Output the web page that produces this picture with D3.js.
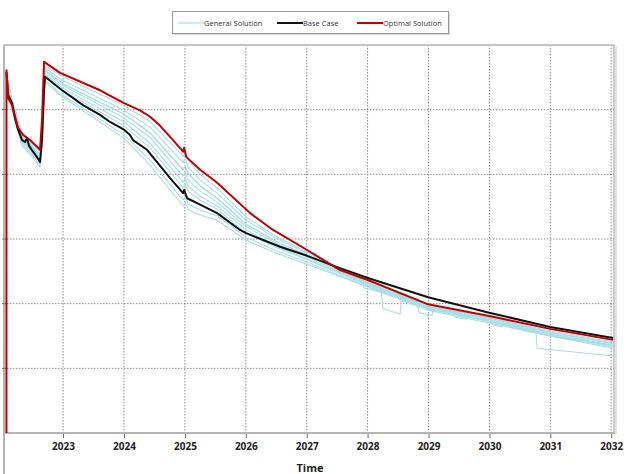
<!DOCTYPE html>
<html>
<head>
<meta charset="utf-8">
<script src="https://cdn.jsdelivr.net/npm/d3@7"></script>
<style>
  html, body { margin: 0; padding: 0; background: #fff; }
  svg { display: block; }
</style>
</head>
<body>
<div id="chart"></div>
<script>
// Time given as decimal years, values in chart units (no y labels shown)
const xTickYears = [2023, 2024, 2025, 2026, 2027, 2028, 2029, 2030, 2031, 2032];
const yGridValues = [10, 20, 30, 40, 50];

const baseTimes = [2022.070, 2022.097, 2022.163, 2022.212, 2022.261, 2022.327, 2022.376, 2022.409, 2022.442, 2022.507,
    2022.606, 2022.622, 2022.655, 2022.688, 2022.704, 2022.984, 2023.328, 2023.608, 2023.772, 2024.002,
    2024.100, 2024.149, 2024.379, 2024.593, 2024.757, 2024.970, 2024.987, 2025.036, 2025.250, 2025.529,
    2025.906, 2026.005, 2026.563, 2027.007, 2027.548, 2027.992, 2028.993, 2029.995, 2030.997, 2032.031];
const baseValues = [55.8, 52.3, 51.0, 48.6, 46.9, 45.3, 45.0, 45.6, 44.4, 43.5,
    42.2, 41.9, 45.3, 53.0, 55.1, 53.0, 50.7, 49.2, 48.1, 46.9,
    46.1, 45.3, 43.8, 41.3, 39.4, 37.1, 37.6, 36.3, 35.3, 34.0,
    31.4, 30.9, 28.8, 27.4, 25.5, 24.0, 21.0, 18.6, 16.4, 14.7];

const optTimes = [2022.070, 2022.071, 2022.097, 2022.163, 2022.212, 2022.261, 2022.343, 2022.458, 2022.589, 2022.622,
    2022.655, 2022.688, 2022.951, 2023.608, 2024.002, 2024.264, 2024.429, 2024.593, 2024.757, 2024.970,
    2024.987, 2025.020, 2025.250, 2025.529, 2026.071, 2026.448, 2027.007, 2027.548, 2027.992, 2028.993,
    2029.995, 2030.997, 2032.031];
const optValues = [0, 56.1, 51.8, 50.7, 48.9, 47.2, 46.1, 45.3, 44.1, 43.8,
    48.4, 57.4, 55.7, 53.0, 51.0, 49.9, 48.9, 47.5, 45.8, 43.5,
    44.1, 42.7, 40.7, 38.7, 34.0, 31.4, 28.3, 25.2, 23.7, 19.9,
    18.1, 16.1, 14.4];

const genTimes = [2022.064, 2022.163, 2022.327, 2022.458, 2022.622, 2022.655, 2022.704, 2022.984, 2024.002, 2024.429,
    2024.970, 2025.003, 2025.053, 2025.250, 2025.529, 2026.005, 2026.500, 2027.007, 2027.992, 2028.993,
    2029.995, 2030.997, 2032.031];
const gen1 = [55.8, 51.5, 46.4, 45.0, 43.5, 47.6, 56.8, 55.2, 50.6, 48.2, 42.8, 43.5, 42.2, 40.0, 37.9, 33.4, 30.4, 28.0, 23.2, 19.6, 17.8, 15.8, 14.1];
const gen2 = [55.8, 51.3, 45.9, 44.8, 43.0, 47.2, 56.4, 54.6, 49.9, 47.3, 41.8, 42.4, 41.1, 39.1, 37.1, 32.9, 30.1, 27.8, 23.3, 19.8, 17.8, 15.6, 13.9];
const gen3 = [55.7, 51.0, 45.6, 44.5, 42.7, 46.9, 56.1, 54.1, 49.3, 46.4, 40.7, 41.3, 40.1, 38.2, 36.3, 32.3, 29.6, 27.5, 23.2, 19.6, 17.6, 15.5, 13.8];
const gen4 = [55.7, 50.9, 45.3, 44.4, 42.5, 46.5, 55.8, 53.8, 48.7, 45.7, 39.7, 40.4, 39.1, 37.4, 35.7, 31.9, 29.3, 27.2, 23.0, 19.5, 17.5, 15.3, 13.6];
const gen5 = [55.5, 50.7, 45.2, 44.1, 42.2, 46.2, 55.5, 53.4, 48.1, 44.8, 38.8, 39.4, 38.2, 36.6, 35.1, 31.4, 28.9, 26.9, 23.0, 19.5, 17.3, 15.3, 13.5];
const gen6 = [55.5, 50.6, 45.0, 43.8, 41.8, 45.9, 55.2, 53.0, 47.5, 44.1, 37.9, 38.5, 37.4, 36.0, 34.6, 30.9, 28.7, 26.8, 22.9, 19.3, 17.3, 15.1, 13.5];
const gen7 = [55.4, 50.3, 44.7, 43.5, 41.4, 45.3, 54.6, 52.3, 46.1, 42.2, 36.0, 36.6, 35.4, 34.5, 33.6, 30.3, 28.2, 26.4, 22.7, 19.2, 17.2, 15.0, 13.3];
const gen8 = [55.2, 49.9, 44.4, 43.1, 41.1, 45.0, 54.3, 52.0, 45.6, 41.4, 35.1, 35.7, 34.5, 33.7, 32.9, 29.8, 27.8, 26.1, 22.6, 19.0, 17.0, 15.0, 13.1];

// one run with stepped drops late in the period
const gen9Times = [2022.064, 2022.163, 2022.327, 2022.458, 2022.622, 2022.655, 2022.704, 2022.984, 2024.002, 2024.429,
    2024.970, 2025.003, 2025.053, 2025.250, 2025.529, 2026.005, 2026.500, 2027.007, 2027.548, 2027.910,
    2027.943, 2028.222, 2028.255, 2028.534, 2028.550, 2028.813, 2028.846, 2029.059, 2029.076, 2029.388,
    2029.437, 2029.617, 2029.634, 2030.011, 2030.061, 2030.209, 2030.225, 2030.504, 2030.553, 2030.767,
    2030.783, 2032.031];
const gen9 = [55.7, 51.0, 45.6, 44.5, 42.7, 46.9, 56.1, 54.1, 49.3, 46.4,
    40.7, 41.3, 40.1, 38.2, 36.3, 32.3, 29.6, 27.5, 25.1, 23.8,
    22.4, 21.8, 19.2, 18.4, 20.4, 19.8, 18.6, 18.2, 19.5, 18.9,
    17.9, 17.6, 18.6, 17.8, 16.7, 16.4, 17.3, 16.5, 15.8, 15.5,
    13.1, 11.9];

const generalRuns = [
    [genTimes, gen1], [genTimes, gen2], [genTimes, gen3], [genTimes, gen4],
    [genTimes, gen5], [genTimes, gen6], [genTimes, gen7], [genTimes, gen8],
    [gen9Times, gen9]
];

const legendItems = [
    { label: "General Solution", color: "#a8dde5", width: 1.2 },
    { label: "Base Case", color: "#111111", width: 2 },
    { label: "Optimal Solution", color: "#c00000", width: 2 }
];

function yearToDate(y) {
    const yr = Math.floor(y);
    const start = Date.UTC(yr, 0, 1);
    const end = Date.UTC(yr + 1, 0, 1);
    return new Date(start + (y - yr) * (end - start));
}

const width = 628, height = 474;
const plot = { left: 4, right: 614, top: 45, bottom: 433 };

const svg = d3.select("#chart").append("svg")
    .attr("width", width)
    .attr("height", height)
    .style("font-family", "'Open Sans', sans-serif");

const x = d3.scaleUtc()
    .domain([yearToDate(2022.030), yearToDate(2032.046)])
    .range([plot.left, plot.right]);

const y = d3.scaleLinear()
    .domain([0, 60])
    .range([plot.bottom, plot.top]);

// Grid
const grid = svg.append("g");
grid.selectAll("line.vg")
    .data(xTickYears)
    .join("line")
    .attr("class", "vg")
    .attr("x1", d => x(yearToDate(d)))
    .attr("x2", d => x(yearToDate(d)))
    .attr("y1", plot.top)
    .attr("y2", plot.bottom)
    .style("stroke", "#8c8c8c")
    .style("stroke-width", 1)
    .style("stroke-dasharray", "1.5,1.5");

grid.selectAll("line.hg")
    .data(yGridValues)
    .join("line")
    .attr("class", "hg")
    .attr("x1", plot.left)
    .attr("x2", plot.right)
    .attr("y1", d => y(d))
    .attr("y2", d => y(d))
    .style("stroke", "#8c8c8c")
    .style("stroke-width", 1)
    .style("stroke-dasharray", "1.5,1.5");

// Plot frame (top and right, with a light shadow)
svg.append("line")
    .attr("x1", plot.left).attr("x2", plot.right)
    .attr("y1", plot.top).attr("y2", plot.top)
    .style("stroke", "#c4c4c4").style("stroke-width", 2);
svg.append("line")
    .attr("x1", plot.right + 2).attr("x2", plot.right + 2)
    .attr("y1", plot.top + 1).attr("y2", plot.bottom + 1)
    .style("stroke", "#d8d8d8").style("stroke-width", 1.5);
svg.append("line")
    .attr("x1", plot.right).attr("x2", plot.right)
    .attr("y1", plot.top).attr("y2", plot.bottom)
    .style("stroke", "#aaaaaa").style("stroke-width", 1.2);

// Y axis: line and tiny ticks, no labels
svg.append("line")
    .attr("x1", plot.left).attr("x2", plot.left)
    .attr("y1", plot.top).attr("y2", height)
    .style("stroke", "#b4b4b4").style("stroke-width", 2);
svg.selectAll("line.yt")
    .data(yGridValues)
    .join("line")
    .attr("class", "yt")
    .attr("x1", plot.left - 2).attr("x2", plot.left + 3)
    .attr("y1", d => y(d)).attr("y2", d => y(d))
    .style("stroke", "#777").style("stroke-width", 1);

// X axis
const xAxis = d3.axisBottom(x)
    .tickValues(xTickYears.map(yearToDate))
    .tickFormat(d3.utcFormat("%Y"))
    .tickSize(5)
    .tickPadding(5);

const gx = svg.append("g")
    .attr("transform", `translate(0,${plot.bottom})`)
    .call(xAxis);
gx.select(".domain").remove();
gx.selectAll(".tick line").style("stroke", "#666");
gx.selectAll(".tick text")
    .style("font-family", "'Open Sans', sans-serif")
    .style("font-size", "10px")
    .style("font-weight", "700")
    .style("fill", "#222");

svg.append("line")
    .attr("x1", plot.left).attr("x2", plot.right + 1)
    .attr("y1", plot.bottom).attr("y2", plot.bottom)
    .style("stroke", "#b4b4b4").style("stroke-width", 2);

svg.append("text")
    .attr("x", 310)
    .attr("y", 467)
    .attr("text-anchor", "middle")
    .attr("dominant-baseline", "central")
    .style("font-size", "11px")
    .style("font-weight", "700")
    .style("fill", "#222")
    .text("Time");

// Series
const line = d3.line()
    .x(d => x(yearToDate(d[0])))
    .y(d => y(d[1]));

const toPoints = (times, values) => times.map((t, i) => [t, values[i]]);

const plotG = svg.append("g");
generalRuns.forEach(([times, values]) => {
    plotG.append("path")
        .datum(toPoints(times, values))
        .attr("d", line)
        .style("fill", "none")
        .style("stroke", legendItems[0].color)
        .style("stroke-width", 1.1)
        .style("stroke-linejoin", "round");
});

plotG.append("path")
    .datum(toPoints(baseTimes, baseValues))
    .attr("d", line)
    .style("fill", "none")
    .style("stroke", legendItems[1].color)
    .style("stroke-width", 2)
    .style("stroke-linejoin", "round");

plotG.append("path")
    .datum(toPoints(optTimes, optValues))
    .attr("d", line)
    .style("fill", "none")
    .style("stroke", legendItems[2].color)
    .style("stroke-width", 2)
    .style("stroke-linejoin", "round");

// Legend
const legend = svg.append("g");
legend.append("rect")
    .attr("x", 174).attr("y", 13)
    .attr("width", 276).attr("height", 22)
    .style("fill", "#d6d6d6");
legend.append("rect")
    .attr("x", 172.5).attr("y", 11.5)
    .attr("width", 276).attr("height", 22)
    .style("fill", "#fff")
    .style("stroke", "#9a9a9a")
    .style("stroke-width", 1);

const legendX = [178, 277, 357];
legendItems.forEach((item, i) => {
    const lx = legendX[i];
    legend.append("line")
        .attr("x1", lx).attr("x2", lx + 26)
        .attr("y1", 23).attr("y2", 23)
        .style("stroke", item.color)
        .style("stroke-width", item.width);
    legend.append("text")
        .attr("x", lx + 26)
        .attr("y", 23)
        .attr("dominant-baseline", "central")
        .style("font-size", "7.5px")
        .style("fill", "#333")
        .text(item.label);
});
</script>
</body>
</html>
